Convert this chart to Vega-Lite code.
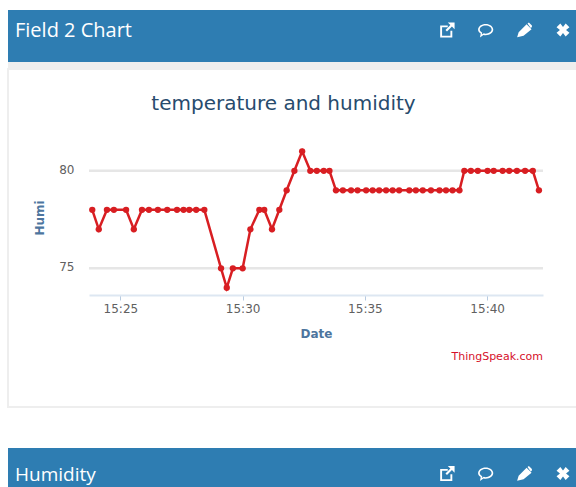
{
"$schema":"https://vega.github.io/schema/vega-lite/v6.json",
"padding":{"left":7,"top":10,"right":0,"bottom":0},
"background":"white",
"bounds":"flush",
"spacing":0,
"resolve":{"scale":{"shape":"independent"}},
"config":{"view":{"stroke":null},"title":{"font":"Open Sans"}},
"datasets":{
"icons":[{"icon":"link"},{"icon":"comment"},{"icon":"edit"},{"icon":"close"}],
"grid":[{"level":75},{"level":80}],
"humi":[
{"t":"2024-01-01T15:23:51","v":78},{"t":"2024-01-01T15:24:07","v":77},{"t":"2024-01-01T15:24:27","v":78},{"t":"2024-01-01T15:24:44","v":78},{"t":"2024-01-01T15:25:14","v":78},{"t":"2024-01-01T15:25:33","v":77},{"t":"2024-01-01T15:25:53","v":78},{"t":"2024-01-01T15:26:10","v":78},{"t":"2024-01-01T15:26:32","v":78},{"t":"2024-01-01T15:26:55","v":78},{"t":"2024-01-01T15:27:19","v":78},{"t":"2024-01-01T15:27:35","v":78},{"t":"2024-01-01T15:27:49","v":78},{"t":"2024-01-01T15:28:06","v":78},{"t":"2024-01-01T15:28:26","v":78},{"t":"2024-01-01T15:29:07","v":75},{"t":"2024-01-01T15:29:21","v":74},{"t":"2024-01-01T15:29:36","v":75},{"t":"2024-01-01T15:30:00","v":75},{"t":"2024-01-01T15:30:19","v":77},{"t":"2024-01-01T15:30:41","v":78},{"t":"2024-01-01T15:30:53","v":78},{"t":"2024-01-01T15:31:12","v":77},{"t":"2024-01-01T15:31:30","v":78},{"t":"2024-01-01T15:31:48","v":79},{"t":"2024-01-01T15:32:07","v":80},{"t":"2024-01-01T15:32:26","v":81},{"t":"2024-01-01T15:32:46","v":80},{"t":"2024-01-01T15:33:02","v":80},{"t":"2024-01-01T15:33:19","v":80},{"t":"2024-01-01T15:33:33","v":80},{"t":"2024-01-01T15:33:49","v":79},{"t":"2024-01-01T15:34:06","v":79},{"t":"2024-01-01T15:34:26","v":79},{"t":"2024-01-01T15:34:42","v":79},{"t":"2024-01-01T15:35:03","v":79},{"t":"2024-01-01T15:35:19","v":79},{"t":"2024-01-01T15:35:35","v":79},{"t":"2024-01-01T15:35:52","v":79},{"t":"2024-01-01T15:36:08","v":79},{"t":"2024-01-01T15:36:24","v":79},{"t":"2024-01-01T15:36:49","v":79},{"t":"2024-01-01T15:37:05","v":79},{"t":"2024-01-01T15:37:22","v":79},{"t":"2024-01-01T15:37:42","v":79},{"t":"2024-01-01T15:38:03","v":79},{"t":"2024-01-01T15:38:19","v":79},{"t":"2024-01-01T15:38:35","v":79},{"t":"2024-01-01T15:38:52","v":79},{"t":"2024-01-01T15:39:04","v":80},{"t":"2024-01-01T15:39:20","v":80},{"t":"2024-01-01T15:39:37","v":80},{"t":"2024-01-01T15:40:01","v":80},{"t":"2024-01-01T15:40:16","v":80},{"t":"2024-01-01T15:40:38","v":80},{"t":"2024-01-01T15:40:54","v":80},{"t":"2024-01-01T15:41:13","v":80},{"t":"2024-01-01T15:41:33","v":80},{"t":"2024-01-01T15:41:52","v":80},{"t":"2024-01-01T15:42:07","v":79}
]},
"vconcat":[
{"width":569,"height":52,"view":{"fill":"#2e7db2"},
"title":{"text":"Field 2 Chart","anchor":"start","frame":"group","dx":7,"offset":-47,"baseline":"alphabetic","color":"white","fontSize":20,"fontWeight":"normal","font":"Open Sans"},
"data":{"name":"icons"},
"mark":{"type":"point","filled":true,"opacity":1,"size":230,"color":"white","yOffset":-6},
"encoding":{"x":{"field":"icon","type":"nominal","axis":null,"scale":{"type":"point","domain":["link","comment","edit","close"],"range":[439,555],"padding":0}},
"shape":{"field":"icon","type":"nominal","legend":null,"scale":{"domain":["link","comment","edit","close"],"range":[
"M-0.9,-0.6H0.1V-0.35H-0.65V0.75H0.45V0.1H0.7V1H-0.9Z M0.1,-1H1V-0.1L0.65,-0.45L0,0.2L-0.2,0L0.45,-0.65Z",
"M0,-0.8C0.55,-0.8 1,-0.48 1,-0.05C1,0.38 0.55,0.7 0,0.7C-0.1,0.7 -0.2,0.69 -0.3,0.67L-0.75,1L-0.65,0.45C-0.95,0.3 -1,0.1 -1,-0.05C-1,-0.48 -0.55,-0.8 0,-0.8Z M0,-0.58C-0.45,-0.58 -0.78,-0.35 -0.78,-0.05C-0.78,0.13 -0.65,0.27 -0.45,0.37L-0.5,0.6L-0.25,0.44C-0.17,0.47 -0.08,0.48 0,0.48C0.45,0.48 0.78,0.25 0.78,-0.05C0.78,-0.35 0.45,-0.58 0,-0.58Z",
"M-0.95,0.95L-0.75,0.3L0.3,-0.75L0.95,-0.1L-0.1,0.75Z M0.42,-0.87L0.6,-1L1,-0.6L1,-0.4L0.85,-0.25Z",
"M-0.35,-0.85L0,-0.4L0.35,-0.85L0.85,-0.35L0.4,0L0.85,0.35L0.35,0.85L0,0.4L-0.35,0.85L-0.85,0.35L-0.4,0L-0.85,-0.35Z"]}}}},
{"width":569,"height":7,"view":{"fill":"#eeeeee"},"data":{"values":[{}]},"mark":{"type":"text"},"encoding":{}},
{"width":569,"height":338,"view":{"fill":"white","stroke":"#eeeeee","strokeWidth":2},
"title":{"text":"temperature and humidity","anchor":"middle","frame":"group","dx":-9,"offset":-61,"baseline":"alphabetic","color":"#274b6d","fontSize":20,"fontWeight":"normal","font":"DejaVu Sans"},
"data":{"name":"humi"},
"layer":[
{"data":{"name":"grid"},"mark":{"type":"rule","color":"#e6e6e6","strokeWidth":2.5},
"encoding":{
"y":{"field":"level","type":"quantitative","title":"Humi","scale":{"domain":[73.63,81.58],"range":[226,71],"nice":false,"zero":false},
"axis":{"values":[75,80],"offset":-74,"domain":false,"ticks":false,"grid":false,"labelPadding":8,"labelOffset":-1.5,"labelColor":"#606060","labelFont":"DejaVu Sans","labelFontSize":12,"titleColor":"#4d759e","titleFont":"DejaVu Sans","titleFontSize":12,"titleFontWeight":"bold","titlePadding":12}},
"x":{"datum":{"year":2024,"month":1,"date":1,"hours":15,"minutes":23,"seconds":43},"type":"temporal","title":"Date","scale":{"domain":[{"year":2024,"month":1,"date":1,"hours":15,"minutes":23,"seconds":43},{"year":2024,"month":1,"date":1,"hours":15,"minutes":42,"seconds":17}],"range":[81,535]},
"axis":{"offset":-112,"format":"%H:%M","values":[{"year":2024,"month":1,"date":1,"hours":15,"minutes":25},{"year":2024,"month":1,"date":1,"hours":15,"minutes":30},{"year":2024,"month":1,"date":1,"hours":15,"minutes":35},{"year":2024,"month":1,"date":1,"hours":15,"minutes":40}],"grid":false,"ticks":true,"domainColor":"#dde7f2","domainWidth":2,"tickColor":"#b8cbe0","tickWidth":1,"tickSize":5,"labelPadding":3,"labelColor":"#606060","labelFont":"DejaVu Sans","labelFontSize":12,"labelFlush":false,"titleColor":"#4d759e","titleFont":"DejaVu Sans","titleFontSize":12,"titleFontWeight":"bold","titlePadding":14}},
"x2":{"datum":{"year":2024,"month":1,"date":1,"hours":15,"minutes":42,"seconds":17}}}},
{"mark":{"type":"line","color":"#d81e22","strokeWidth":2.5},
"encoding":{"x":{"field":"t","type":"temporal","title":"Date"},"y":{"field":"v","type":"quantitative","title":"Humi"}}},
{"mark":{"type":"point","filled":true,"color":"#d81e22","size":40,"opacity":1},
"encoding":{"x":{"field":"t","type":"temporal","title":"Date"},"y":{"field":"v","type":"quantitative","title":"Humi"}}},
{"data":{"values":[{"credit":"ThingSpeak.com"}]},"mark":{"type":"text","align":"right","baseline":"middle","color":"#d6102a","font":"DejaVu Sans","fontSize":11},
"encoding":{"text":{"field":"credit","type":"nominal"},"x":{"datum":{"year":2024,"month":1,"date":1,"hours":15,"minutes":42,"seconds":17},"type":"temporal","title":"Date"},"y":{"datum":70.44,"type":"quantitative","title":"Humi"}}}
]},
{"width":569,"height":41,"data":{"values":[{}]},"mark":{"type":"text"},"encoding":{}},
{"width":569,"height":39,"view":{"fill":"#2e7db2"},
"title":{"text":"Humidity","anchor":"start","frame":"group","dx":7,"offset":-52,"baseline":"alphabetic","color":"white","fontSize":19,"fontWeight":"normal","font":"Open Sans"},
"data":{"name":"icons"},
"mark":{"type":"point","filled":true,"opacity":1,"size":230,"color":"white","yOffset":6},
"encoding":{"x":{"field":"icon","type":"nominal","axis":null,"scale":{"type":"point","domain":["link","comment","edit","close"],"range":[439,555],"padding":0}},
"shape":{"field":"icon","type":"nominal","legend":null,"scale":{"domain":["link","comment","edit","close"],"range":[
"M-0.9,-0.6H0.1V-0.35H-0.65V0.75H0.45V0.1H0.7V1H-0.9Z M0.1,-1H1V-0.1L0.65,-0.45L0,0.2L-0.2,0L0.45,-0.65Z",
"M0,-0.8C0.55,-0.8 1,-0.48 1,-0.05C1,0.38 0.55,0.7 0,0.7C-0.1,0.7 -0.2,0.69 -0.3,0.67L-0.75,1L-0.65,0.45C-0.95,0.3 -1,0.1 -1,-0.05C-1,-0.48 -0.55,-0.8 0,-0.8Z M0,-0.58C-0.45,-0.58 -0.78,-0.35 -0.78,-0.05C-0.78,0.13 -0.65,0.27 -0.45,0.37L-0.5,0.6L-0.25,0.44C-0.17,0.47 -0.08,0.48 0,0.48C0.45,0.48 0.78,0.25 0.78,-0.05C0.78,-0.35 0.45,-0.58 0,-0.58Z",
"M-0.95,0.95L-0.75,0.3L0.3,-0.75L0.95,-0.1L-0.1,0.75Z M0.42,-0.87L0.6,-1L1,-0.6L1,-0.4L0.85,-0.25Z",
"M-0.35,-0.85L0,-0.4L0.35,-0.85L0.85,-0.35L0.4,0L0.85,0.35L0.35,0.85L0,0.4L-0.35,0.85L-0.85,0.35L-0.4,0L-0.85,-0.35Z"]}}}}
]
}
